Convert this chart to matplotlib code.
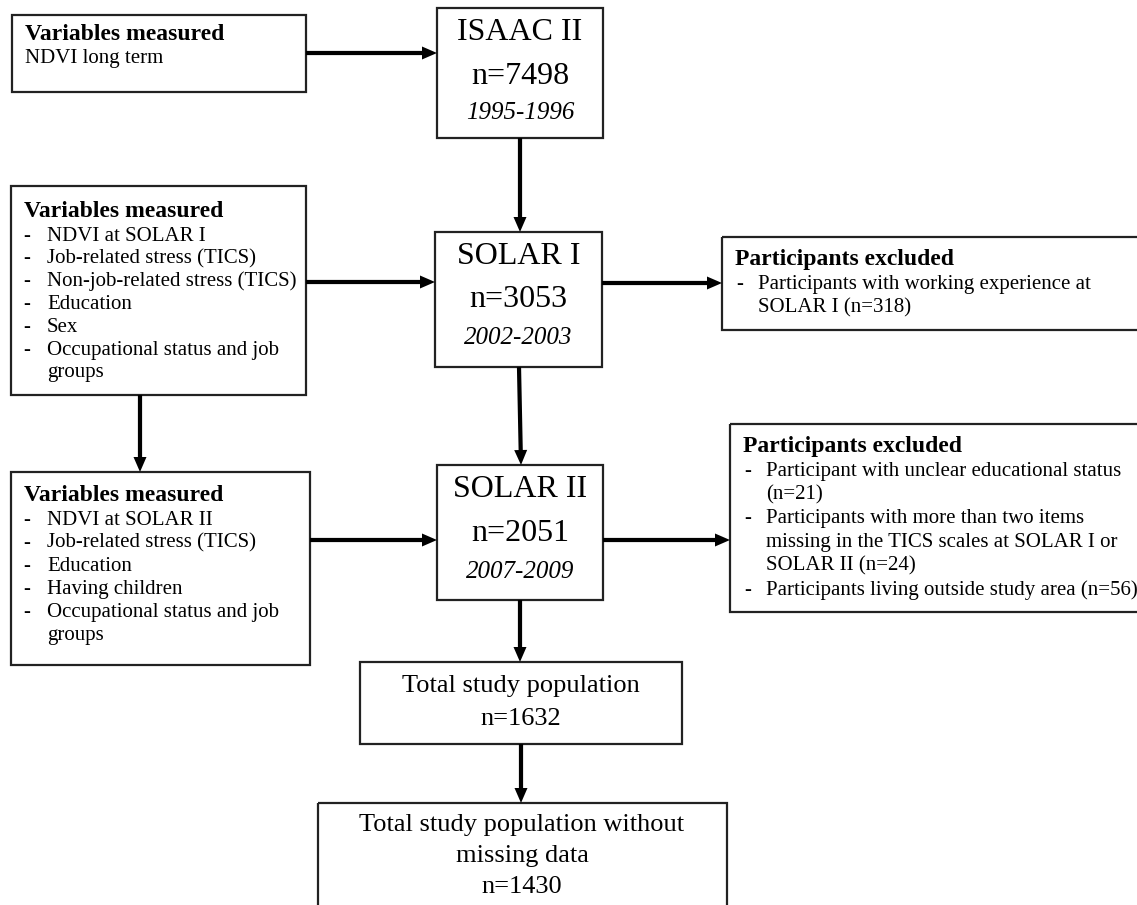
import matplotlib
matplotlib.use("Agg")
import matplotlib.pyplot as plt
from matplotlib.patches import Rectangle, FancyArrow

plt.rcParams['font.family'] = ['Liberation Serif', 'DejaVu Serif']

# ---- content ----
top_vars_title = "Variables measured"
top_vars_items = ["NDVI long term"]
solar1_vars_items = ["NDVI at SOLAR I", "Job-related stress (TICS)",
                     "Non-job-related stress (TICS)", "Education", "Sex",
                     "Occupational status and job", "groups"]
solar1_vars_dash = [True, True, True, True, True, True, False]
solar2_vars_items = ["NDVI at SOLAR II", "Job-related stress (TICS)", "Education",
                     "Having children", "Occupational status and job", "groups"]
solar2_vars_dash = [True, True, True, True, True, False]
excl_title = "Participants excluded"
excl1_items = ["Participants with working experience at", "SOLAR I (n=318)"]
excl1_dash = [True, False]
excl2_items = ["Participant with unclear educational status", "(n=21)",
               "Participants with more than two items",
               "missing in the TICS scales at SOLAR I or",
               "SOLAR II (n=24)", "Participants living outside study area (n=56)"]
excl2_dash = [True, False, True, False, False, True]
waves = ["ISAAC II", "SOLAR I", "SOLAR II"]
wave_n = ["n=7498", "n=3053", "n=2051"]
wave_years = ["1995-1996", "2002-2003", "2007-2009"]
total_lines = ["Total study population", "n=1632"]
final_lines = ["Total study population without", "missing data", "n=1430"]

W, H = 1137, 905
fig = plt.figure(figsize=(W / 100, H / 100), dpi=100)
ax = fig.add_axes([0, 0, 1, 1])
ax.set_xlim(0, W)
ax.set_ylim(H, 0)
ax.axis('off')

EC = '#222222'
BLW = 1.6
ITEM_FS = 15
TITLE_FS = 17
BIG_FS = 23
YEAR_FS = 18


def box(x0, y0, x1, y1):
    ax.add_patch(Rectangle((x0, y0), x1 - x0, y1 - y0, fill=False,
                           edgecolor=EC, lw=BLW, zorder=2, clip_on=False))


def arrow(x0, y0, x1, y1):
    ax.add_patch(FancyArrow(x0, y0, x1 - x0, y1 - y0, width=4.2,
                            head_width=13, head_length=15,
                            length_includes_head=True, lw=0,
                            color='black', zorder=3))


def list_box(x0, y0, x1, y1, title, items, dashes, ty, step, dash_dx, text_dx):
    box(x0, y0, x1, y1)
    ax.text(x0 + 13, ty, title, fontsize=TITLE_FS, fontweight='bold',
            va='center', ha='left', color='black')
    for i, (t, d) in enumerate(zip(items, dashes)):
        y = ty + 25 + i * step
        if d:
            ax.text(x0 + dash_dx, y, "-", fontsize=ITEM_FS, va='center', ha='left')
        ax.text(x0 + text_dx, y, t, fontsize=ITEM_FS, va='center', ha='left')


def wave_box(x0, y0, x1, y1, name, n, yrs, ys):
    box(x0, y0, x1, y1)
    cx = (x0 + x1) / 2
    ax.text(cx, ys[0], name, fontsize=BIG_FS, ha='center', va='center')
    ax.text(cx, ys[1], n, fontsize=BIG_FS, ha='center', va='center')
    ax.text(cx, ys[2], yrs, fontsize=YEAR_FS, style='italic', ha='center', va='center')


# Top variables box
box(12, 15, 306, 92)
ax.text(25, 34, top_vars_title, fontsize=TITLE_FS, fontweight='bold', va='center')
ax.text(25, 59, top_vars_items[0], fontsize=ITEM_FS, va='center')

# Wave boxes
wave_box(437, 8, 603, 138, waves[0], wave_n[0], wave_years[0], (32, 76, 113))
wave_box(435, 232, 602, 367, waves[1], wave_n[1], wave_years[1], (256, 299, 338))
wave_box(437, 465, 603, 600, waves[2], wave_n[2], wave_years[2], (489, 533, 572))

# Variables boxes
list_box(11, 186, 306, 395, top_vars_title, solar1_vars_items, solar1_vars_dash,
         211, 22.8, 12, 36)
list_box(11, 472, 310, 665, top_vars_title, solar2_vars_items, solar2_vars_dash,
         495, 23, 12, 36)

# Exclusion boxes
list_box(722, 237, 1150, 330, excl_title, excl1_items, excl1_dash, 259, 23.5, 14, 36)
list_box(730, 424, 1150, 612, excl_title, excl2_items, excl2_dash, 446, 23.8, 14, 36)

# Total boxes
box(360, 662, 682, 744)
ax.text(521, 686, total_lines[0], fontsize=19, ha='center', va='center')
ax.text(521, 719, total_lines[1], fontsize=19, ha='center', va='center')
box(318, 803, 727, 930)
for i, t in enumerate(final_lines):
    ax.text(522, 825 + i * 31, t, fontsize=19, ha='center', va='center')

# Arrows
arrow(306, 53, 437, 53)
arrow(520, 138, 520, 232)
arrow(306, 282, 435, 282)
arrow(602, 283, 722, 283)
arrow(519, 367, 521, 465)
arrow(140, 395, 140, 472)
arrow(310, 540, 437, 540)
arrow(603, 540, 730, 540)
arrow(520, 600, 520, 662)
arrow(521, 744, 521, 803)

fig.savefig("out.png", dpi=100, facecolor='white')
